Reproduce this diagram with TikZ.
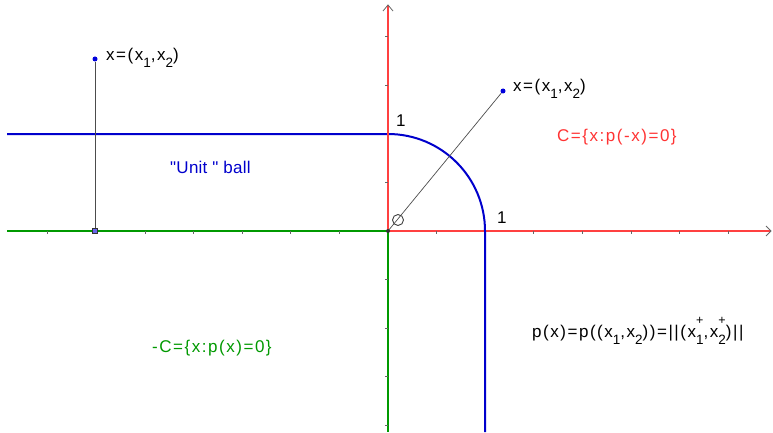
\documentclass[tikz,border=0pt]{standalone}
\usepackage{fontspec}
\setmainfont{Liberation Sans}[LetterSpace=9, Ligatures=TeXOff]
\newfontfamily\tightf{Liberation Sans}[LetterSpace=1.5, Ligatures=TeXOff]
\usetikzlibrary{arrows.meta}
\definecolor{axred}{RGB}{255,64,64}
\definecolor{axgreen}{RGB}{0,153,0}
\definecolor{ballblue}{RGB}{0,0,204}
\definecolor{txtred}{RGB}{255,51,51}
\definecolor{txtgreen}{RGB}{0,153,0}
\definecolor{txtblue}{RGB}{0,0,204}
\definecolor{ptblue}{RGB}{0,0,220}
\newcommand{\sbx}[1]{\raisebox{-7pt}{\fontsize{13.5}{14}\selectfont #1}}
\newcommand{\spx}[1]{\rlap{\raisebox{13pt}{\fontsize{12.5}{13}\selectfont #1}}}
\begin{document}
\begin{tikzpicture}[x=1pt,y=1pt,
  lbl/.style={inner sep=0pt, anchor=base west, font=\fontsize{17}{19}\selectfont},
  tick/.style={draw=black!60, line width=0.8pt},
  axis/.style={line width=2pt},
  chev/.style={draw=black!60, line width=0.8pt},
  dot/.style={circle, fill=ptblue, inner sep=0pt, minimum size=5pt},
  thin/.style={draw=black!70, line width=0.7pt}]
\useasboundingbox (0,0) rectangle (773,432);
\coordinate (O) at (388,201);
\coordinate (XL) at (7,201);
\coordinate (XR) at (771,201);
\coordinate (YT) at (388,427);
\coordinate (YB) at (388,0);
% axes
\draw[axis, axgreen] (XL) -- (O);
\draw[axis, axgreen] (O) -- (YB);
\draw[axis, axred] (O) -- (XR);
\draw[axis, axred] (O) -- (YT);
% ticks
\foreach \k in {1,...,7} {
  \draw[tick] (388+48.6*\k,201) -- ++(0,-3);
  \draw[tick] (388-48.6*\k,201) -- ++(0,-3);
}
\foreach \k in {1,...,4} {
  \draw[tick] (388,201+48.6*\k) -- ++(-3,0);
  \draw[tick] (388,201-48.6*\k) -- ++(-3,0);
}
% arrow chevrons
\draw[chev] (766,206) -- (XR) -- (766,196);
\draw[chev] (383,421) -- (YT) -- (393,421);
% unit ball boundary
\draw[ballblue, line width=2pt] (7,298) -- (388,298) arc[start angle=90, end angle=0, radius=97] -- (485,0);
\draw[axred, line width=2pt] (388,290) -- (388,306);
% points and lines
\node[dot] (P) at (503,341) {};
\node[dot] (Q) at (95,373) {};
\node[rectangle, fill=ptblue!60, draw=black!80, line width=0.6pt, inner sep=0pt, minimum size=4.5pt] (Qp) at (95,201) {};
\draw[thin] (O) -- (P);
\draw[thin] (Q) -- (Qp);
\node[circle, draw=black!75, line width=0.9pt, inner sep=0pt, minimum size=11pt] (M) at (398,212) {};
\node[circle, fill=black!80, inner sep=0pt, minimum size=4pt] (Od) at (O) {};
% labels
\node[lbl] (lq) at (106,371) {x=(x\sbx{1},x\sbx{2})};
\node[lbl] (lp) at (513,341) {x=(x\sbx{1},x\sbx{2})};
\node[lbl, text=txtred] (lc) at (557,291) {C=\{x:p(-x)=0\}};
\node[lbl, text=txtblue, font=\fontsize{17}{19}\tightf] (lu) at (170,259) {"Unit "\ ball};
\node[lbl, text=txtgreen] (lmc) at (152,80) {-C=\{x:p(x)=0\}};
\node[lbl] (lnorm) at (532,95) {p(x)=p((x\sbx{1},x\sbx{2}))=||(x\spx{+}\sbx{1},x\spx{+}\sbx{2})||};
\node[lbl] (one1) at (396,306) {1};
\node[lbl] (one2) at (497,209) {1};
\end{tikzpicture}
\end{document}
